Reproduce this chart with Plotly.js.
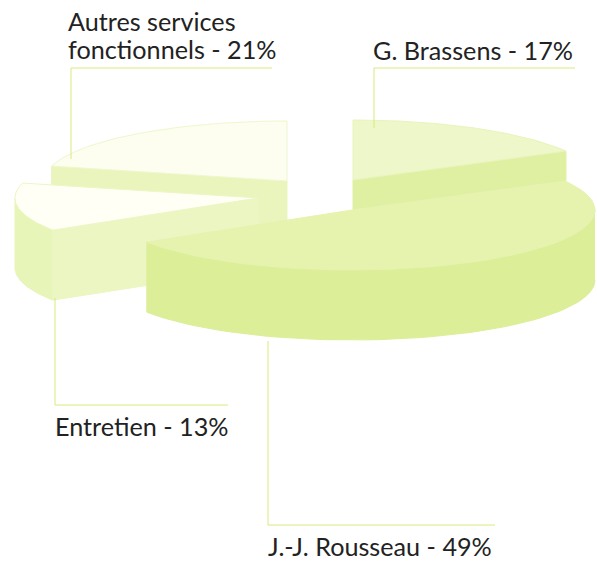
<!DOCTYPE html>
<html><head><meta charset="utf-8">
<script src="https://cdn.plot.ly/plotly-3.0.1.min.js"></script>
<style>html,body{margin:0;padding:0;background:#fff;overflow:hidden}#c{width:597px;height:561px}</style>
</head><body><div id="c"></div>
<script>
const categories = ["G. Brassens", "J.-J. Rousseau", "Entretien", "Autres services|fonctionnels"];
const shares = [17, 49, 13, 21];

// Pie projection (pixel-like axis units)
const RX = 243, RY = 60, DEPTH = 70;
const apex = [[353,180],[352,210],[258,198],[287,181]];
const topFill = ["#eef7c9","#e5f3ae","#fffff5","#fdfef0"];
const rimFill = ["#dff0a0","#ddee98","#e8f5b8","#fafde8"];
const radFill = ["#e0f0a2","#e5f3ae","#ebf6c2","#e9f5bc"];
const topLine = ["#e8f4bb","#e5f3ae","#ecf6c4","#eff7ce"];
const drawOrder = [3,0,2,1];
const labelPos = [[373,52],[268,548],[55,428],[68,23]];
const lineStep = 28;
const leaders = [
 [[575,374,374],[68,68,128]],
 [[495,268,268],[525,525,341]],
 [[228,55,55],[405,405,298]],
 [[272,71,71],[68,68,159]]];
const lineColor = "#d6ea7c";

const traces = [];
let start = 0;
const total = shares.reduce((a,b)=>a+b,0);
const spans = shares.map(v=>{const s=[start,start+v/total*2*Math.PI];start=s[1];return s;});
function pt(i,t,dz){return [apex[i][0]+RX*Math.sin(t), apex[i][1]-RY*Math.cos(t)+(dz||0)];}
function poly(pts,fill,line){traces.push({type:"scatter",mode:"lines",x:pts.map(p=>p[0]),y:pts.map(p=>p[1]),fill:"toself",fillcolor:fill,line:{color:line||fill,width:1},hoverinfo:"skip",showlegend:false});}
drawOrder.forEach(i=>{
  const [a,b]=spans[i]; const N=60; const arc=[];
  for(let k=0;k<=N;k++) arc.push(a+(b-a)*k/N);
  const c=apex[i], cb=[c[0],c[1]+DEPTH];
  // only the part of the outer wall that faces the viewer
  const lo=Math.max(a,Math.PI/2), hi=Math.min(b,1.5*Math.PI);
  if(hi>lo){
    const front=[]; for(let k=0;k<=N;k++) front.push(lo+(hi-lo)*k/N);
    poly(front.map(t=>pt(i,t,DEPTH)).concat(front.slice().reverse().map(t=>pt(i,t))),rimFill[i]);
  }
  if(Math.sin(a)<-1e-6) poly([c,cb,pt(i,a,DEPTH),pt(i,a),c],radFill[i]);
  if(Math.sin(b)>1e-6) poly([c,cb,pt(i,b,DEPTH),pt(i,b),c],radFill[i]);
  poly([c].concat(arc.map(t=>pt(i,t))).concat([c]),topFill[i],topLine[i]);
});
leaders.forEach(l=>traces.push({type:"scatter",mode:"lines",x:l[0],y:l[1],line:{color:lineColor,width:1},hoverinfo:"skip",showlegend:false}));

categories.forEach((c,i)=>{
  const lines=(c+" - "+shares[i]+"%").split("|");
  lines.forEach((t,k)=>traces.push({type:"scatter",mode:"text",x:[labelPos[i][0]],y:[labelPos[i][1]+k*lineStep+2],
    text:[t],textposition:"middle right",cliponaxis:false,
    textfont:{family:"Lato, sans-serif",size:25.2,color:"#222"},hoverinfo:"skip",showlegend:false}));
});

Plotly.newPlot("c",traces,{
  width:597,height:561,margin:{l:0,r:0,t:0,b:0},paper_bgcolor:"#fff",plot_bgcolor:"#fff",showlegend:false,
  xaxis:{range:[0,597],visible:false,fixedrange:true},
  yaxis:{range:[561,0],visible:false,fixedrange:true}
},{displayModeBar:false,staticPlot:true});
</script></body></html>
